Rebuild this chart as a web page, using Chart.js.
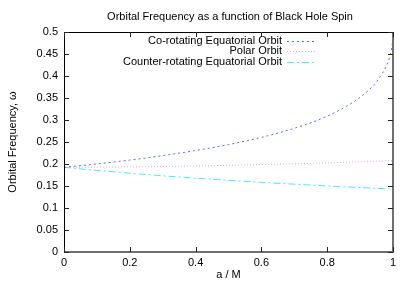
<!DOCTYPE html>
<html>
<head>
<meta charset="utf-8">
<script src="https://cdn.jsdelivr.net/npm/chart.js@4"></script>
<style>
  body { margin: 0; background: #fff; }
  #wrap { width: 409px; height: 286px; }
</style>
</head>
<body>
<div id="wrap"><canvas id="chart" width="409" height="286"></canvas></div>
<script>
// spin values a/M and orbital frequency
const spin = [0, 0.1, 0.2, 0.3, 0.4, 0.5, 0.6, 0.7, 0.8, 0.9, 0.95, 0.98, 0.99, 0.998, 1];
const coRotating = [0.1925, 0.2002, 0.2089, 0.2190, 0.2306, 0.2441, 0.2605, 0.2812, 0.3089, 0.3516, 0.3872, 0.4236, 0.4439, 0.4738, 0.488];
const polar = [0.1925, 0.1929, 0.1935, 0.1944, 0.1955, 0.1969, 0.1986, 0.2005, 0.2025, 0.2049, 0.2062, 0.2070, 0.2072, 0.2074, 0.2075];
const counterRotating = [0.1925, 0.1855, 0.1791, 0.1732, 0.1678, 0.1629, 0.1583, 0.1541, 0.1501, 0.1464, 0.1446, 0.1436, 0.1432, 0.1430, 0.1429];

const seriesNames = ['Co-rotating Equatorial Orbit', 'Polar Orbit', 'Counter-rotating Equatorial Orbit'];
const xTicks = ['0', '0.2', '0.4', '0.6', '0.8', '1'];
const yTicks = ['0', '0.05', '0.1', '0.15', '0.2', '0.25', '0.3', '0.35', '0.4', '0.45', '0.5'];

const FONT = 'Liberation Sans, Arial, sans-serif';

function pts(ys) {
    return spin.map(function (x, i) { return { x: x, y: ys[i] }; });
}

const styles = [
    { color: '#5a6cf0', dash: [2, 3] },
    { color: '#f49cf4', dash: [1, 2] },
    { color: '#40f0f0', dash: [7, 3, 2, 3] }
];

const frame = {
    id: 'frame',
    afterDraw: function (chart) {
        const ctx = chart.ctx;
        const a = chart.chartArea;
        const xs = chart.scales.x, ys = chart.scales.y;
        ctx.save();
        // title
        ctx.fillStyle = '#000';
        ctx.font = '11px ' + FONT;
        ctx.textAlign = 'center';
        ctx.textBaseline = 'middle';
        ctx.fillText('Orbital Frequency as a function of Black Hole Spin', 230, 17);

        // border
        ctx.lineWidth = 1;
        ctx.strokeStyle = '#000';
        ctx.beginPath();
        ctx.moveTo(a.left + 0.5, a.bottom);
        ctx.lineTo(a.left + 0.5, a.top + 0.5);
        ctx.lineTo(a.right, a.top + 0.5);
        ctx.stroke();
        ctx.strokeStyle = '#6f6f6f';
        ctx.lineWidth = 2;
        ctx.beginPath();
        ctx.moveTo(a.right, a.top);
        ctx.lineTo(a.right, a.bottom);
        ctx.lineTo(a.left, a.bottom);
        ctx.stroke();

        // inward ticks on all sides
        ctx.lineWidth = 1;
        ctx.strokeStyle = '#222';
        ctx.beginPath();
        xs.ticks.forEach(function (t) {
            const px = Math.round(xs.getPixelForValue(t.value)) + 0.5;
            ctx.moveTo(px, a.bottom); ctx.lineTo(px, a.bottom - 5);
            ctx.moveTo(px, a.top); ctx.lineTo(px, a.top + 5);
        });
        ys.ticks.forEach(function (t) {
            const py = Math.round(ys.getPixelForValue(t.value)) + 0.5;
            ctx.moveTo(a.left, py); ctx.lineTo(a.left + 5, py);
            ctx.moveTo(a.right, py); ctx.lineTo(a.right - 5, py);
        });
        ctx.stroke();

        // legend, text right aligned with sample on the right
        ctx.font = '11px ' + FONT;
        ctx.textAlign = 'right';
        const rows = [41, 51, 62];
        chart.data.datasets.forEach(function (ds, i) {
            ctx.fillStyle = '#000';
            ctx.fillText(ds.label, 282, rows[i]);
            ctx.strokeStyle = ds.borderColor;
            ctx.setLineDash(ds.borderDash);
            ctx.beginPath();
            ctx.moveTo(287, rows[i] + 0.5);
            ctx.lineTo(316, rows[i] + 0.5);
            ctx.stroke();
        });
        ctx.restore();
    }
};

const datasets = [coRotating, polar, counterRotating].map(function (ys, i) {
    return {
        label: seriesNames[i],
        data: pts(ys),
        borderColor: styles[i].color,
        borderDash: styles[i].dash,
        borderWidth: 1,
        pointRadius: 0,
        cubicInterpolationMode: 'monotone',
        fill: false
    };
});

new Chart(document.getElementById('chart').getContext('2d'), {
    type: 'line',
    data: { datasets: datasets },
    plugins: [frame],
    options: {
        responsive: false,
        animation: false,
        events: [],
        layout: { padding: { top: 32, right: 16, left: 0, bottom: 0 } },
        plugins: { legend: { display: false }, title: { display: false }, tooltip: { enabled: false } },
        scales: {
            x: {
                type: 'linear',
                min: 0, max: 1,
                afterFit: function (s) { s.height = 34; },
                grid: { display: false, drawTicks: false },
                border: { display: false },
                ticks: {
                    stepSize: 0.2,
                    padding: 4,
                    color: '#000',
                    font: { family: FONT, size: 11 },
                    maxRotation: 0,
                    callback: function (v) { return xTicks[Math.round(v * 5)]; }
                },
                title: { display: true, text: 'a / M', color: '#000', font: { family: FONT, size: 11 }, padding: { top: 0 } }
            },
            y: {
                min: 0, max: 0.5,
                afterFit: function (s) { s.width = 64; },
                grid: { display: false, drawTicks: false },
                border: { display: false },
                ticks: {
                    stepSize: 0.05,
                    padding: 6,
                    color: '#000',
                    font: { family: FONT, size: 11 },
                    callback: function (v) { return yTicks[Math.round(v * 20)]; }
                },
                title: { display: true, text: 'Orbital Frequency, \u03c9', color: '#000', font: { family: FONT, size: 11 }, padding: { top: 6, bottom: 2 } }
            }
        }
    }
});
</script>
</body>
</html>
